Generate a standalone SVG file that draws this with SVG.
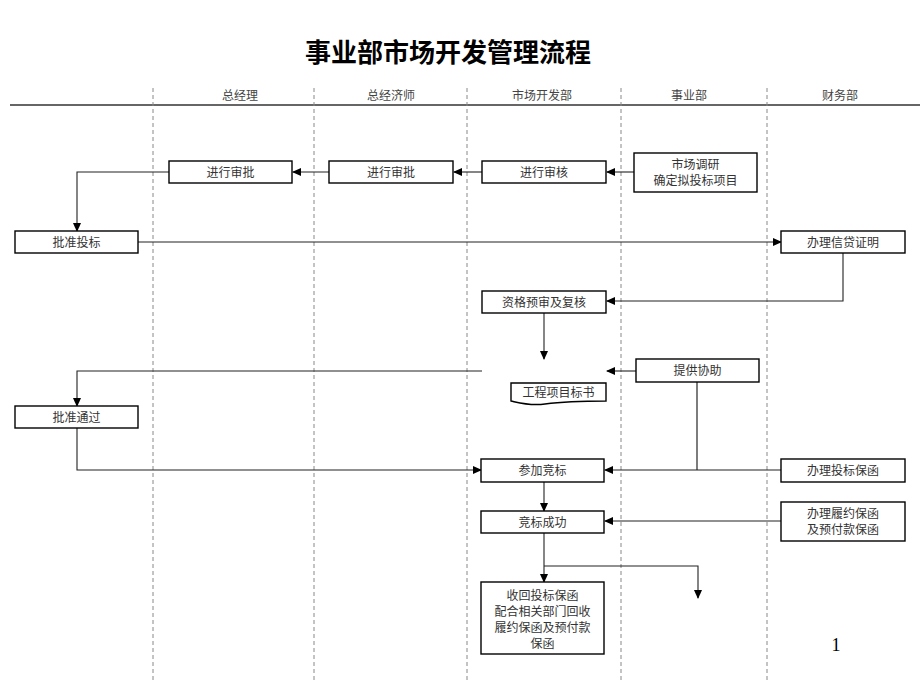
<svg xmlns="http://www.w3.org/2000/svg" width="920" height="690" viewBox="0 0 920 690">
<style>
.bg{fill:#fff}
.box{fill:#fff;stroke:#000;stroke-width:1.4}
.t{font-family:"Liberation Serif","Noto Sans CJK SC",serif;font-size:12px;fill:#333;text-anchor:middle}
.hd{font-family:"Liberation Serif","Noto Sans CJK SC",serif;font-size:12px;fill:#444;text-anchor:middle}
.title{font-family:"Noto Sans CJK SC",sans-serif;font-size:26px;font-weight:bold;fill:#000;text-anchor:middle}
.lane{stroke:#888;stroke-width:1;stroke-dasharray:4 3;fill:none}
.c{stroke:#111;stroke-width:1.1;fill:none}
.ca{stroke:#222;stroke-width:1.1;fill:none;marker-end:url(#ah)}
</style>
<defs>
<marker id="ah" markerUnits="userSpaceOnUse" markerWidth="9" markerHeight="8" refX="8" refY="4" orient="auto">
<path d="M0,0 L9,4 L0,8 z" fill="#000"/>
</marker>
</defs>
<rect class="bg" x="0" y="0" width="920" height="690"/>
<text class="title" x="448" y="62">事业部市场开发管理流程</text>
<g id="header">
<line x1="10" y1="105" x2="920" y2="105" stroke="#666" stroke-width="2"/>
<text class="hd" x="240" y="100">总经理</text>
<text class="hd" x="391" y="100">总经济师</text>
<text class="hd" x="542" y="100">市场开发部</text>
<text class="hd" x="689" y="100">事业部</text>
<text class="hd" x="840" y="100">财务部</text>
</g>
<g id="lanes">
<line class="lane" x1="153" y1="88" x2="153" y2="680"/>
<line class="lane" x1="314" y1="88" x2="314" y2="680"/>
<line class="lane" x1="467" y1="88" x2="467" y2="680"/>
<line class="lane" x1="621" y1="88" x2="621" y2="680"/>
<line class="lane" x1="767" y1="88" x2="767" y2="680"/>
</g>
<g id="connectors">
<line class="ca" x1="482" y1="172" x2="454" y2="172"/>
<line class="ca" x1="329" y1="172" x2="293" y2="172"/>
<polyline class="ca" points="169,172 77,172 77,231"/>
<line class="ca" x1="634" y1="172" x2="607" y2="172"/>
<line class="ca" x1="138" y1="242" x2="781" y2="242"/>
<polyline class="ca" points="843,253 843,301 607,301"/>
<line class="ca" x1="544" y1="313" x2="544" y2="359"/>
<line class="ca" x1="636" y1="371" x2="607" y2="371"/>
<polyline class="ca" points="482,371 77,371 77,406"/>
<polyline class="ca" points="77,428 77,470 481,470"/>
<polyline class="c" points="697,382 697,470"/>
<line class="ca" x1="781" y1="470" x2="605" y2="470"/>
<line class="ca" x1="544" y1="482" x2="544" y2="511"/>
<line class="ca" x1="781" y1="521" x2="605" y2="521"/>
<line class="ca" x1="544" y1="533" x2="544" y2="582"/>
<polyline class="ca" points="544,566 698,566 698,598"/>
</g>
<g id="n_gm_approve"><rect class="box" x="169" y="161" width="123" height="22"/><text class="t" x="230.5" y="176.5">进行审批</text></g>
<g id="n_ce_approve"><rect class="box" x="329" y="161" width="124" height="22"/><text class="t" x="391" y="176.5">进行审批</text></g>
<g id="n_review"><rect class="box" x="482" y="161" width="124" height="22"/><text class="t" x="544" y="176.5">进行审核</text></g>
<g id="n_research"><rect class="box" x="634" y="153" width="123" height="39"/><text class="t" x="695.5" y="169">市场调研</text><text class="t" x="695.5" y="185">确定拟投标项目</text></g>
<g id="n_approve_bid"><rect class="box" x="15" y="231" width="123" height="22"/><text class="t" x="76.5" y="246.5">批准投标</text></g>
<g id="n_credit"><rect class="box" x="781" y="231" width="124" height="22"/><text class="t" x="843" y="246.5">办理信贷证明</text></g>
<g id="n_prequal"><rect class="box" x="482" y="291" width="124" height="22"/><text class="t" x="544" y="306.5">资格预审及复核</text></g>
<g id="n_assist"><rect class="box" x="636" y="359" width="123" height="23"/><text class="t" x="697.5" y="375">提供协助</text></g>
<g id="n_doc"><path class="box" d="M511,383 L606,383 L606,401 C580,401 560,402 545,404 C530,406 520,403 511,401 Z"/><text class="t" x="558.5" y="397">工程项目标书</text></g>
<g id="n_approve_pass"><rect class="box" x="15" y="406" width="123" height="22"/><text class="t" x="76.5" y="421.5">批准通过</text></g>
<g id="n_bid"><rect class="box" x="481" y="459" width="123" height="23"/><text class="t" x="542.5" y="475">参加竞标</text></g>
<g id="n_bid_guarantee"><rect class="box" x="781" y="459" width="124" height="23"/><text class="t" x="843" y="475">办理投标保函</text></g>
<g id="n_win"><rect class="box" x="481" y="511" width="123" height="22"/><text class="t" x="542.5" y="526.5">竞标成功</text></g>
<g id="n_perf_guarantee"><rect class="box" x="781" y="502" width="124" height="39"/><text class="t" x="843" y="518">办理履约保函</text><text class="t" x="843" y="534">及预付款保函</text></g>
<g id="n_recover"><rect class="box" x="481" y="582" width="123" height="72"/><text class="t" x="542.5" y="600">收回投标保函</text><text class="t" x="542.5" y="616">配合相关部门回收</text><text class="t" x="542.5" y="632">履约保函及预付款</text><text class="t" x="542.5" y="648">保函</text></g>
<text x="836" y="651" font-family="Liberation Serif,serif" font-size="18" fill="#000" text-anchor="middle">1</text>
</svg>
